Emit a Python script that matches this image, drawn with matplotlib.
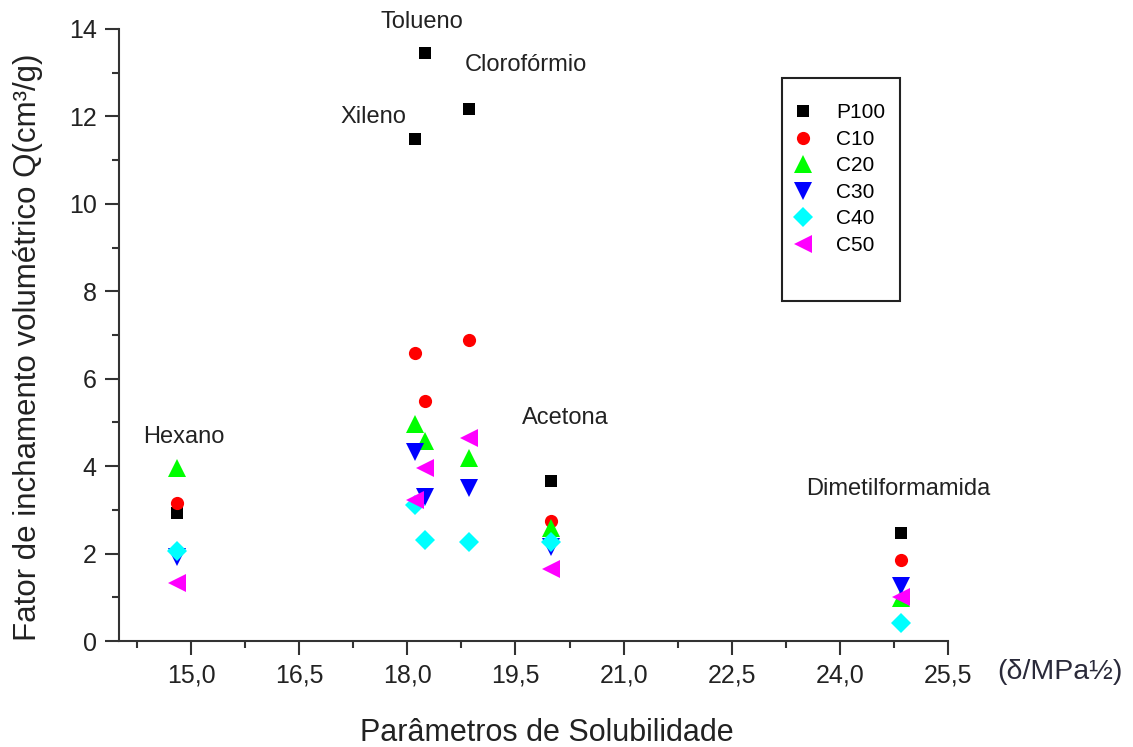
import matplotlib
matplotlib.use("Agg")
import matplotlib.pyplot as plt
from matplotlib.ticker import MultipleLocator, FuncFormatter
from matplotlib.patches import Rectangle

plt.rcParams['font.family'] = ['Liberation Sans', 'DejaVu Sans']

# Solvents and their solubility parameters (δ / MPa^1/2)
solvents = ["Hexano", "Xileno", "Tolueno", "Clorofórmio", "Acetona", "Dimetilformamida"]
delta = [14.8, 18.1, 18.25, 18.85, 20.0, 24.85]

# Volumetric swelling factor Q (cm³/g) for each sample
p100 = [2.93, 11.49, 13.46, 12.17, 3.67, 2.46]
c10 = [3.16, 6.59, 5.50, 6.89, 2.74, 1.85]
c20 = [3.96, 4.97, 4.58, 4.19, 2.59, 0.98]
c30 = [1.92, 4.33, 3.30, 3.50, 2.16, 1.26]
c40 = [2.06, 3.11, 2.31, 2.27, 2.27, 0.41]
c50 = [1.33, 3.23, 3.96, 4.65, 1.65, 1.01]

series_labels = ["P100", "C10", "C20", "C30", "C40", "C50"]
series_values = [p100, c10, c20, c30, c40, c50]
styles = [
    dict(marker="s", color="#000000", ms=9),
    dict(marker="o", color="#ff0000", ms=9.5),
    dict(marker="^", color="#00ff00", ms=12.5),
    dict(marker="v", color="#0000ff", ms=12.5),
    dict(marker="D", color="#00ffff", ms=10),
    dict(marker="<", color="#ff00ff", ms=12.5),
]

# Label positions for each solvent (data coordinates)
label_pos = [(14.9, 4.67), (17.53, 11.99), (18.2, 14.16), (19.64, 13.18),
             (20.19, 5.10), (24.81, 3.48)]

fig = plt.figure(figsize=(11.33, 7.47), dpi=100)
ax = fig.add_axes([0.105, 0.1419, 0.7317, 0.8193])

handles = []
for lab, vals, st in zip(series_labels, series_values, styles):
    h, = ax.plot(delta, vals, linestyle="none", marker=st["marker"],
                 color=st["color"], markersize=st["ms"], markeredgewidth=0,
                 label=lab, clip_on=False)
    handles.append(h)

for name, (tx, ty) in zip(solvents, label_pos):
    ax.text(tx, ty, name, ha="center", va="center", fontsize=17, color="#222222")

ax.set_xlim(14.0, 25.5)
ax.set_ylim(0, 14)
ax.xaxis.set_major_locator(MultipleLocator(1.5))
ax.xaxis.set_minor_locator(MultipleLocator(0.75))
ax.yaxis.set_major_locator(MultipleLocator(2))
ax.yaxis.set_minor_locator(MultipleLocator(1))
ax.xaxis.set_major_formatter(FuncFormatter(lambda v, p: f"{v:.1f}".replace(".", ",")))
ax.yaxis.set_major_formatter(FuncFormatter(lambda v, p: f"{v:.0f}"))

for s in ("top", "right"):
    ax.spines[s].set_visible(False)
for s in ("left", "bottom"):
    ax.spines[s].set_linewidth(1.5)
    ax.spines[s].set_color("#333333")

ax.tick_params(which="major", direction="out", length=10, width=1.5,
               color="#333333", labelsize=18, labelcolor="#222222", pad=6)
ax.tick_params(which="minor", direction="out", length=5, width=1.5, color="#333333")

fig.text(0.025, 0.535, "Fator de inchamento volumétrico Q(cm³/g)", rotation=90,
         ha="center", va="center", fontsize=22.5, color="#222222")
fig.text(0.483, 0.019, "Parâmetros de Solubilidade", ha="center", va="center",
         fontsize=22, color="#222222")
ax.text(1.06, -0.05, "(δ/MPa½)", transform=ax.transAxes, ha="left", va="center",
        fontsize=20.5, color="#2a2a3a")

leg = ax.legend(handles=handles, loc="upper left", bbox_to_anchor=(0.782, 0.916),
                frameon=False, fontsize=15, handlelength=1.2, handletextpad=1.0,
                labelspacing=0.36, numpoints=1, borderpad=0.6)

# Legend frame, taller than its entries
frame = Rectangle((0.8, 0.555), 0.142, 0.365, transform=ax.transAxes,
                  fill=False, edgecolor="#222222", linewidth=1.5, clip_on=False)
ax.add_patch(frame)

fig.savefig("out.png", dpi=100)
